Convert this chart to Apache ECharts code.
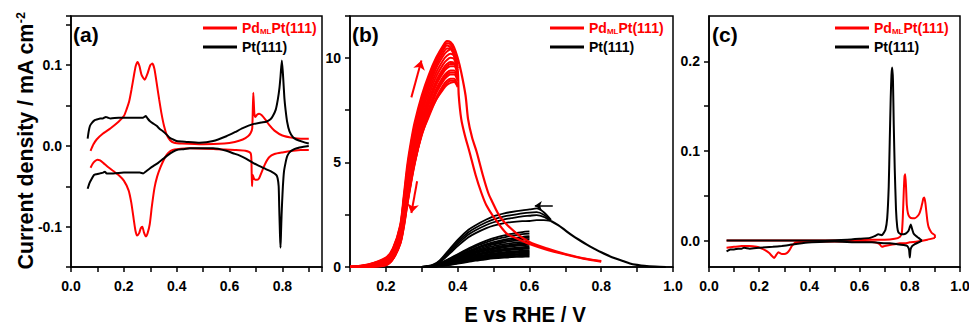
<!DOCTYPE html>
<html><head><meta charset="utf-8">
<script src="https://cdn.jsdelivr.net/npm/echarts@6/dist/echarts.min.js"></script>
<style>html,body{margin:0;padding:0;background:#fff}#c{width:969px;height:327px}</style>
</head><body><div id="c"></div>
<script>
// ---------- Panel (a): CV in base electrolyte ----------
const aPdUpX = [0.074,0.085,0.097,0.12,0.15,0.18,0.2,0.21,0.22,0.229,0.238,0.245,0.252,0.259,0.267,0.279,0.29,0.3,0.308,0.316,0.326,0.334,0.342,0.352,0.362,0.375,0.39,0.42,0.5,0.58,0.62,0.65,0.67,0.68,0.686,0.69,0.694,0.698,0.705,0.712,0.722,0.735,0.75,0.77,0.8,0.84,0.87,0.9];
const aPdUpY = [-0.006,0.002,0.008,0.015,0.022,0.03,0.037,0.045,0.055,0.07,0.087,0.099,0.104,0.099,0.088,0.082,0.09,0.1,0.102,0.095,0.074,0.057,0.041,0.025,0.014,0.007,0.004,0.003,0.002,0.003,0.005,0.008,0.012,0.016,0.022,0.066,0.04,0.036,0.039,0.04,0.038,0.033,0.026,0.019,0.013,0.01,0.009,0.009];
const aPdDnX = [0.9,0.87,0.84,0.8,0.77,0.75,0.735,0.722,0.712,0.705,0.698,0.692,0.688,0.685,0.683,0.68,0.66,0.62,0.55,0.45,0.4,0.385,0.374,0.362,0.35,0.338,0.326,0.316,0.306,0.298,0.29,0.283,0.276,0.27,0.264,0.258,0.25,0.244,0.237,0.228,0.218,0.2,0.18,0.16,0.14,0.122,0.11,0.1,0.09,0.082,0.074];
const aPdDnY = [-0.005,-0.005,-0.006,-0.008,-0.01,-0.014,-0.022,-0.032,-0.04,-0.042,-0.042,-0.04,-0.036,-0.05,-0.02,-0.009,-0.006,-0.005,-0.004,-0.003,-0.004,-0.005,-0.007,-0.011,-0.018,-0.027,-0.038,-0.052,-0.075,-0.097,-0.108,-0.112,-0.107,-0.1,-0.102,-0.108,-0.111,-0.105,-0.09,-0.07,-0.055,-0.043,-0.036,-0.031,-0.026,-0.021,-0.018,-0.017,-0.019,-0.022,-0.027];
const aPtUpX = [0.063,0.067,0.072,0.08,0.09,0.1,0.11,0.12,0.132,0.14,0.15,0.18,0.22,0.26,0.273,0.283,0.29,0.298,0.31,0.324,0.336,0.349,0.362,0.374,0.387,0.4,0.437,0.487,0.538,0.588,0.62,0.65,0.689,0.72,0.739,0.755,0.764,0.775,0.783,0.789,0.793,0.798,0.802,0.805,0.808,0.812,0.818,0.827,0.84,0.853,0.878,0.9];
const aPtUpY = [0.009,0.018,0.025,0.029,0.032,0.033,0.034,0.034,0.036,0.035,0.034,0.035,0.035,0.035,0.035,0.037,0.034,0.031,0.028,0.025,0.021,0.018,0.014,0.01,0.008,0.006,0.005,0.004,0.006,0.012,0.017,0.022,0.027,0.029,0.03,0.033,0.037,0.045,0.058,0.072,0.086,0.106,0.09,0.074,0.058,0.045,0.03,0.018,0.011,0.008,0.005,0.003];
const aPtDnX = [0.9,0.88,0.865,0.845,0.827,0.818,0.812,0.806,0.802,0.799,0.797,0.795,0.793,0.791,0.79,0.788,0.786,0.782,0.777,0.76,0.739,0.714,0.689,0.664,0.639,0.613,0.588,0.538,0.487,0.45,0.424,0.4,0.387,0.368,0.349,0.33,0.311,0.298,0.286,0.273,0.26,0.235,0.2,0.16,0.135,0.128,0.122,0.11,0.097,0.087,0.078,0.07,0.063];
const aPtDnY = [0,-0.001,-0.002,-0.004,-0.008,-0.013,-0.021,-0.032,-0.05,-0.07,-0.086,-0.106,-0.126,-0.11,-0.099,-0.075,-0.05,-0.04,-0.036,-0.032,-0.029,-0.025,-0.021,-0.016,-0.012,-0.009,-0.006,-0.003,-0.003,-0.003,-0.004,-0.005,-0.007,-0.011,-0.016,-0.021,-0.025,-0.028,-0.031,-0.034,-0.033,-0.033,-0.033,-0.034,-0.034,-0.032,-0.033,-0.034,-0.035,-0.036,-0.041,-0.046,-0.053];

// ---------- Panel (b): oxidation cycles ----------
const bRedX = [0.10,0.15,0.20,0.22,0.24,0.25,0.26,0.27,0.28,0.30,0.32,0.34,0.36,0.37,0.38,0.39,0.40];
const bRed1 = [0.02,0.12,0.45,0.9,2.0,3.4,4.9,6.0,6.9,8.2,9.2,10.0,10.6,10.8,10.75,10.5,10.0];
const bRed2 = [0.01,0.1,0.4,0.85,1.9,3.2,4.6,5.7,6.6,7.9,8.9,9.8,10.4,10.6,10.5,10.1,9.4];
const bRed3 = [0.01,0.08,0.35,0.75,1.7,2.9,4.2,5.3,6.2,7.5,8.6,9.5,10.1,10.3,10.4,10.2,9.6];
const bRed4 = [0,0.06,0.3,0.7,1.6,2.7,4.0,5.1,6.0,7.3,8.4,9.3,9.9,10.1,10.2,10.1,9.5];
const bRed5 = [0,0.05,0.25,0.6,1.5,2.5,3.8,4.9,5.8,7.1,8.2,9.1,9.7,9.9,10.0,9.95,9.4];
const bRed6 = [0,0.04,0.2,0.55,1.4,2.4,3.6,4.7,5.6,6.9,8.0,8.9,9.5,9.7,9.8,9.75,9.3];
const bRed7 = [0,0.03,0.18,0.5,1.3,2.3,3.5,4.6,5.4,6.7,7.8,8.7,9.3,9.5,9.6,9.6,9.2];
const bRed8 = [0,0.02,0.15,0.45,1.25,2.2,3.4,4.4,5.3,6.6,7.6,8.5,9.1,9.3,9.4,9.4,9.1];
const bRed9 = [0,0.02,0.12,0.42,1.2,2.1,3.2,4.3,5.1,6.4,7.4,8.3,8.9,9.1,9.2,9.2,8.9];
const bRed10 = [0,0.01,0.1,0.4,1.15,2.0,3.1,4.1,5.0,6.3,7.3,8.1,8.7,8.9,9.0,9.0,8.7];
const bRed11 = [0,0,0.08,0.38,1.1,1.9,3.0,4.0,4.9,6.4,7.3,8.0,8.5,8.7,8.8,8.85,8.6];
const bRed12 = [0.01,0.11,0.42,0.88,1.95,3.3,4.75,5.85,6.75,8.05,9.05,9.9,10.5,10.7,10.65,10.3,9.7];
const bRed13 = [0.01,0.09,0.38,0.8,1.8,3.05,4.4,5.5,6.4,7.7,8.75,9.65,10.25,10.45,10.45,10.15,9.5];
const bRed14 = [0,0.04,0.19,0.52,1.35,2.35,3.55,4.65,5.5,6.8,7.9,8.8,9.4,9.6,9.7,9.7,9.25];
const bRed15 = [0,0.02,0.14,0.44,1.22,2.15,3.3,4.35,5.2,6.5,7.5,8.4,9.0,9.2,9.3,9.3,9.0];
const bRed16 = [0,0.01,0.09,0.39,1.12,1.95,3.05,4.05,4.95,6.35,7.2,8.0,8.6,8.8,8.9,8.9,8.65];
const bRedTailBX = [0.41,0.422,0.429,0.44,0.453,0.47,0.485,0.494,0.52,0.563,0.60,0.65,0.70,0.75,0.80];
const bRedTailBY = [9.3,8.2,7.07,6.2,5.5,4.4,3.55,3.2,2.35,1.62,1.2,0.88,0.62,0.42,0.28];
const bRedTailAX = [0.403,0.41,0.42,0.433,0.45,0.466,0.48,0.50,0.535,0.56,0.60,0.65,0.70,0.75,0.80];
const bRedTailAY = [8.2,7.07,6.3,5.5,4.4,3.55,2.95,2.4,1.62,1.4,1.1,0.82,0.6,0.4,0.26];

const bPtX = [0.30,0.33,0.35,0.38,0.40,0.43,0.45,0.48,0.50,0.53,0.55,0.58,0.60];
const bPt1 = [0,0.05,0.17,0.43,0.61,0.88,1.05,1.26,1.38,1.51,1.58,1.67,1.7];
const bPt2 = [0,0.04,0.15,0.37,0.53,0.76,0.91,1.09,1.19,1.31,1.37,1.44,1.47];
const bPt3 = [0,0.04,0.13,0.33,0.48,0.69,0.82,0.98,1.08,1.18,1.24,1.3,1.33];
const bPt4 = [0,0.04,0.12,0.31,0.44,0.64,0.76,0.91,1.0,1.09,1.14,1.2,1.23];
const bPt5 = [0,0.03,0.12,0.29,0.41,0.6,0.71,0.85,0.93,1.02,1.07,1.13,1.15];
const bPt6 = [0,0.03,0.11,0.27,0.38,0.55,0.66,0.78,0.86,0.94,0.99,1.04,1.06];
const bPt7 = [0,0.03,0.1,0.24,0.35,0.5,0.6,0.72,0.79,0.86,0.9,0.95,0.97];
const bPt8 = [0,0.03,0.09,0.22,0.32,0.46,0.55,0.65,0.71,0.78,0.82,0.86,0.88];
const bPt9 = [0,0.02,0.08,0.2,0.29,0.42,0.5,0.59,0.65,0.71,0.74,0.78,0.8];
const bPt10 = [0,0.02,0.07,0.18,0.25,0.36,0.43,0.52,0.57,0.62,0.65,0.69,0.7];
const bPt11 = [0,0.02,0.06,0.15,0.22,0.31,0.37,0.44,0.49,0.53,0.56,0.59,0.6];
const bPt12 = [0,0.01,0.04,0.1,0.16,0.24,0.3,0.37,0.41,0.45,0.47,0.49,0.5];
const bPt13 = [0,0.05,0.16,0.4,0.58,0.83,0.99,1.18,1.3,1.42,1.49,1.57,1.6];
const bPt14 = [0,0.04,0.14,0.35,0.5,0.73,0.87,1.04,1.13,1.25,1.3,1.37,1.4];
const bPt15 = [0,0.03,0.11,0.28,0.4,0.57,0.68,0.81,0.89,0.98,1.02,1.08,1.1];
const bPt16 = [0,0.03,0.09,0.23,0.33,0.48,0.57,0.68,0.75,0.82,0.86,0.9,0.92];
const bPt17 = [0,0.02,0.08,0.19,0.27,0.39,0.47,0.56,0.61,0.67,0.7,0.73,0.75];
const bPt18 = [0,0.02,0.06,0.16,0.23,0.34,0.4,0.48,0.53,0.58,0.6,0.64,0.65];
const bPt19 = [0,0.01,0.05,0.12,0.19,0.28,0.34,0.41,0.45,0.49,0.51,0.54,0.55];
const bPtLongX = [0.30,0.33,0.35,0.38,0.40,0.43,0.45,0.48,0.50,0.53,0.55,0.58,0.60,0.62,0.64,0.66];
const bPtL1 = [0,0.1,0.32,0.9,1.3,1.78,2.0,2.27,2.42,2.56,2.63,2.71,2.75,2.8,2.62,2.25];
const bPtL2 = [0,0.08,0.28,0.82,1.2,1.66,1.88,2.14,2.28,2.42,2.48,2.56,2.6,2.62,2.5,2.22];
const bPtL3 = [0,0.07,0.25,0.75,1.1,1.55,1.76,2.01,2.14,2.28,2.34,2.42,2.45,2.48,2.4,2.2];
const bPtL4 = [0,0.06,0.22,0.68,1.0,1.42,1.62,1.86,1.98,2.1,2.15,2.19,2.2,2.24,2.24,2.2];
const bPtTailX = [0.66,0.68,0.70,0.72,0.74,0.76,0.78,0.80,0.83,0.86,0.88,0.90,0.92,0.95,0.98];
const bPtTailY = [2.2,2.0,1.75,1.5,1.28,1.07,0.88,0.7,0.47,0.29,0.17,0.1,0.05,0.015,0.0];
// scan-direction arrows: [x1,y1,x2,y2]
const bArrowsRed = [[0.271,8.11,0.299,9.87],[0.287,4.1,0.271,2.58]];
const bArrowsPt = [[0.665,2.93,0.615,2.93]];

// ---------- Panel (c) ----------
const cPtUpX = [0.07,0.2,0.4,0.55,0.6,0.641,0.66,0.675,0.688,0.695,0.703,0.71,0.716,0.72,0.724,0.727,0.73,0.733,0.736,0.74,0.745,0.75,0.755,0.765,0.775,0.785,0.795,0.8,0.804,0.81,0.815,0.825,0.835,0.848];
const cPtUpY = [0,0,0,0.001,0.002,0.003,0.005,0.007,0.006,0.008,0.012,0.025,0.06,0.11,0.16,0.185,0.193,0.178,0.13,0.08,0.035,0.015,0.009,0.007,0.007,0.008,0.011,0.015,0.018,0.012,0.008,0.005,0.003,0.0];
const cPtDnX = [0.848,0.835,0.82,0.81,0.803,0.8,0.797,0.79,0.775,0.75,0.72,0.7,0.65,0.6,0.5,0.41,0.37,0.34,0.32,0.29,0.254,0.2,0.162,0.14,0.13,0.117,0.1,0.085,0.07];
const cPtDnY = [0,-0.002,-0.004,-0.006,-0.01,-0.019,-0.01,-0.006,-0.005,-0.004,-0.003,-0.003,-0.002,-0.002,-0.001,-0.002,-0.003,-0.004,-0.005,-0.006,-0.007,-0.008,-0.009,-0.008,-0.009,-0.009,-0.01,-0.01,-0.012];
const cPdUpX = [0.07,0.2,0.4,0.55,0.65,0.7,0.74,0.76,0.768,0.772,0.776,0.779,0.782,0.785,0.788,0.793,0.8,0.81,0.82,0.83,0.838,0.845,0.85,0.854,0.858,0.862,0.866,0.87,0.875,0.886,0.895,0.9,0.9];
const cPdUpY = [0,0,0,0,0.001,0.001,0.002,0.004,0.008,0.025,0.055,0.072,0.074,0.06,0.04,0.03,0.026,0.025,0.025,0.027,0.03,0.036,0.042,0.047,0.048,0.042,0.032,0.022,0.015,0.009,0.007,0.006,0.003];
const cPdDnX = [0.9,0.87,0.83,0.8,0.78,0.76,0.74,0.72,0.7,0.69,0.685,0.68,0.66,0.6,0.5,0.4,0.35,0.34,0.33,0.32,0.31,0.3,0.29,0.283,0.276,0.268,0.26,0.25,0.24,0.225,0.21,0.19,0.16,0.13,0.1,0.07];
const cPdDnY = [0.003,0.001,-0.001,-0.002,-0.003,-0.003,-0.004,-0.005,-0.006,-0.007,-0.006,-0.004,-0.002,-0.001,-0.001,-0.001,-0.002,-0.003,-0.006,-0.011,-0.014,-0.015,-0.015,-0.014,-0.013,-0.016,-0.0195,-0.017,-0.014,-0.011,-0.009,-0.007,-0.006,-0.006,-0.007,-0.008];

// tick labels
const aYLabels = [-0.1, 0, 0.1];
const cYTicks = [0, 0.05, 0.1, 0.15, 0.2];
const cYLabels = [0, 0.1, 0.2];

const PD = 'PdMLPt(111)', PT = 'Pt(111)';
const RED = '#ff0000', BLACK = '#000000';
const FONT = '"Liberation Sans", Arial, sans-serif';

function pairs(xs, ys) { return xs.map((x, i) => [x, ys[i]]); }
function ser(name, data, color, width, gi, smooth, z) {
  return { type: 'line', name, data, xAxisIndex: gi, yAxisIndex: gi, symbol: 'none', showSymbol: false,
    smooth: smooth, lineStyle: { color, width }, itemStyle: { color }, silent: true, animation: false, z: z || 2 };
}
function arrowSeries(name, list, color, gi, width, size) {
  return { type: 'line', name, data: [], xAxisIndex: gi, yAxisIndex: gi, symbol: 'none', itemStyle: { color }, animation: false, z: 5,
    markLine: { silent: true, symbol: ['none', 'arrow'], symbolSize: size, animation: false, label: { show: false },
      lineStyle: { color, width, type: 'solid' },
      data: list.map(a => [{ coord: [a[0], a[1]] }, { coord: [a[2], a[3]] }]) } };
}

const series = [];
// (a)
series.push(ser(PD, pairs(aPdUpX, aPdUpY), RED, 2, 0, 0.2));
series.push(ser(PD, pairs(aPdDnX, aPdDnY), RED, 2, 0, 0.2));
series.push(ser(PT, pairs(aPtUpX, aPtUpY), BLACK, 2, 0, 0.2, 3));
series.push(ser(PT, pairs(aPtDnX, aPtDnY), BLACK, 2, 0, 0.2, 3));
// (b) black first
[bPt1,bPt2,bPt3,bPt4,bPt5,bPt6,bPt7,bPt8,bPt9,bPt10,bPt11,bPt12,bPt13,bPt14,bPt15,bPt16,bPt17,bPt18,bPt19]
  .forEach(ys => series.push(ser(PT, pairs(bPtX, ys), BLACK, 1.8, 1, 0.3, 2)));
[bPtL1,bPtL2,bPtL3,bPtL4].forEach(ys => series.push(ser(PT, pairs(bPtLongX, ys), BLACK, 1.8, 1, 0.3, 2)));
series.push(ser(PT, pairs(bPtTailX, bPtTailY), BLACK, 2.2, 1, 0.3, 2));
series.push(arrowSeries(PT, bArrowsPt, BLACK, 1, 1.5, 7));
series.push(ser(PD, pairs(bRedX, bRed1).concat(pairs(bRedTailBX, bRedTailBY)), RED, 2.2, 1, 0.3, 4));
series.push(ser(PD, pairs(bRedX, bRed2).concat(pairs(bRedTailAX, bRedTailAY)), RED, 2.2, 1, 0.3, 4));
[bRed3,bRed4,bRed5,bRed6,bRed7,bRed8,bRed9,bRed10,bRed11,bRed12,bRed13,bRed14,bRed15,bRed16]
  .forEach(ys => series.push(ser(PD, pairs(bRedX, ys), RED, 2, 1, 0.3, 4)));
series.push(arrowSeries(PD, bArrowsRed, RED, 1, 2, 9));
// (c)
series.push(ser(PD, pairs(cPdUpX, cPdUpY), RED, 2, 2, 0.15));
series.push(ser(PD, pairs(cPdDnX, cPdDnY), RED, 2, 2, 0.15));
series.push(ser(PT, pairs(cPtUpX, cPtUpY), BLACK, 2, 2, 0.15, 3));
series.push(ser(PT, pairs(cPtDnX, cPtDnY), BLACK, 2, 2, 0.15, 3));

const isStep = (v, s) => Math.abs(v / s - Math.round(v / s)) < 1e-6;
const lblStyle = { color: '#000', fontFamily: FONT, fontWeight: 'bold', fontSize: 14 };
const tickStyle = { show: true, inside: false, length: 5, lineStyle: { color: '#000', width: 1.5 } };
const lineStyle = { show: true, onZero: false, lineStyle: { color: '#000', width: 1.5 } };

function xAxis(gi, min, max) {
  return { type: 'value', gridIndex: gi, min, max, interval: 0.1, axisLine: lineStyle, axisTick: tickStyle,
    splitLine: { show: false },
    axisLabel: Object.assign({ margin: 12, showMinLabel: true, showMaxLabel: true,
      formatter: v => isStep(v, 0.2) ? v.toFixed(1) : '' }, lblStyle) };
}

const grids = [
  { left: 71, top: 16, width: 251, height: 251 },
  { left: 350, top: 16, width: 323, height: 251 },
  { left: 709, top: 16, width: 251, height: 251 }
].map(g => Object.assign(g, { show: true, borderColor: '#000', borderWidth: 1.5, backgroundColor: 'transparent', containLabel: false, outerBoundsMode: 'none' }));

const legendFormatter = name => name === PD ? '{r|Pd}{rs|ML}{r|Pt(111)}' : '{k|Pt(111)}';
const legendRich = {
  r: { color: RED, fontFamily: FONT, fontWeight: 'bold', fontSize: 14, lineHeight: 16 },
  rs: { color: RED, fontFamily: FONT, fontWeight: 'bold', fontSize: 8, lineHeight: 16, verticalAlign: 'bottom', padding: [0, 0, 1, 0] },
  k: { color: BLACK, fontFamily: FONT, fontWeight: 'bold', fontSize: 14, lineHeight: 16 }
};
const legends = [203, 550, 835].map(left => ({
  left, top: 20, orient: 'vertical', itemWidth: 34, itemHeight: 2.8, itemGap: 3, padding: 0, icon: 'rect',
  selectedMode: false, data: [PD, PT], formatter: legendFormatter, textStyle: { rich: legendRich, lineHeight: 16 }
}));

const option = {
  animation: false,
  backgroundColor: '#fff',
  grid: grids,
  legend: legends,
  xAxis: [xAxis(0, 0, 0.95), xAxis(1, 0.1, 1.0), xAxis(2, 0, 1.0)],
  yAxis: [
    { type: 'value', gridIndex: 0, min: -0.15, max: 0.161, interval: 0.05, axisLine: lineStyle, axisTick: tickStyle, splitLine: { show: false },
      axisLabel: Object.assign({ margin: 9, formatter: v => (isStep(v, 0.1) && aYLabels.some(t => Math.abs(t - v) < 1e-6)) ? v.toFixed(1) : '' }, lblStyle) },
    { type: 'value', gridIndex: 1, min: 0, max: 12, interval: 2.5, axisLine: lineStyle, axisTick: tickStyle, splitLine: { show: false },
      axisLabel: Object.assign({ margin: 9, formatter: v => isStep(v, 5) ? String(Math.round(v)) : '' }, lblStyle) },
    { type: 'value', gridIndex: 2, min: -0.0295, max: 0.2506, axisLine: lineStyle,
      axisTick: Object.assign({ customValues: cYTicks }, tickStyle), splitLine: { show: false },
      axisLabel: Object.assign({ margin: 9, customValues: cYLabels, formatter: v => v.toFixed(1) }, lblStyle) }
  ],
  graphic: [
    { type: 'text', x: 73, y: 34, z: 10, style: { text: '(a)', fill: '#000', fontFamily: FONT, fontWeight: 'bold', fontSize: 21, align: 'left', verticalAlign: 'middle' } },
    { type: 'text', x: 352, y: 34, z: 10, style: { text: '(b)', fill: '#000', fontFamily: FONT, fontWeight: 'bold', fontSize: 21, align: 'left', verticalAlign: 'middle' } },
    { type: 'text', x: 712, y: 34, z: 10, style: { text: '(c)', fill: '#000', fontFamily: FONT, fontWeight: 'bold', fontSize: 21, align: 'left', verticalAlign: 'middle' } },
    { type: 'text', x: 25, y: 141, rotation: Math.PI / 2, scaleX: 0.97, z: 10,
      style: { text: 'Current density / mA cm{s|-2}', fill: '#000', fontFamily: FONT, fontWeight: 'bold', fontSize: 22, align: 'center', verticalAlign: 'middle',
        rich: { s: { fontFamily: FONT, fontWeight: 'bold', fontSize: 13, verticalAlign: 'top', padding: [0, 0, 9, 0] } } } },
    { type: 'text', x: 525, y: 315, scaleX: 0.93, z: 10, style: { text: 'E vs RHE / V', fill: '#000', fontFamily: FONT, fontWeight: 'bold', fontSize: 22, align: 'center', verticalAlign: 'middle' } }
  ],
  series
};

const chart = echarts.init(document.getElementById('c'), null, { renderer: 'svg', width: 969, height: 327 });
chart.setOption(option);
</script></body></html>
